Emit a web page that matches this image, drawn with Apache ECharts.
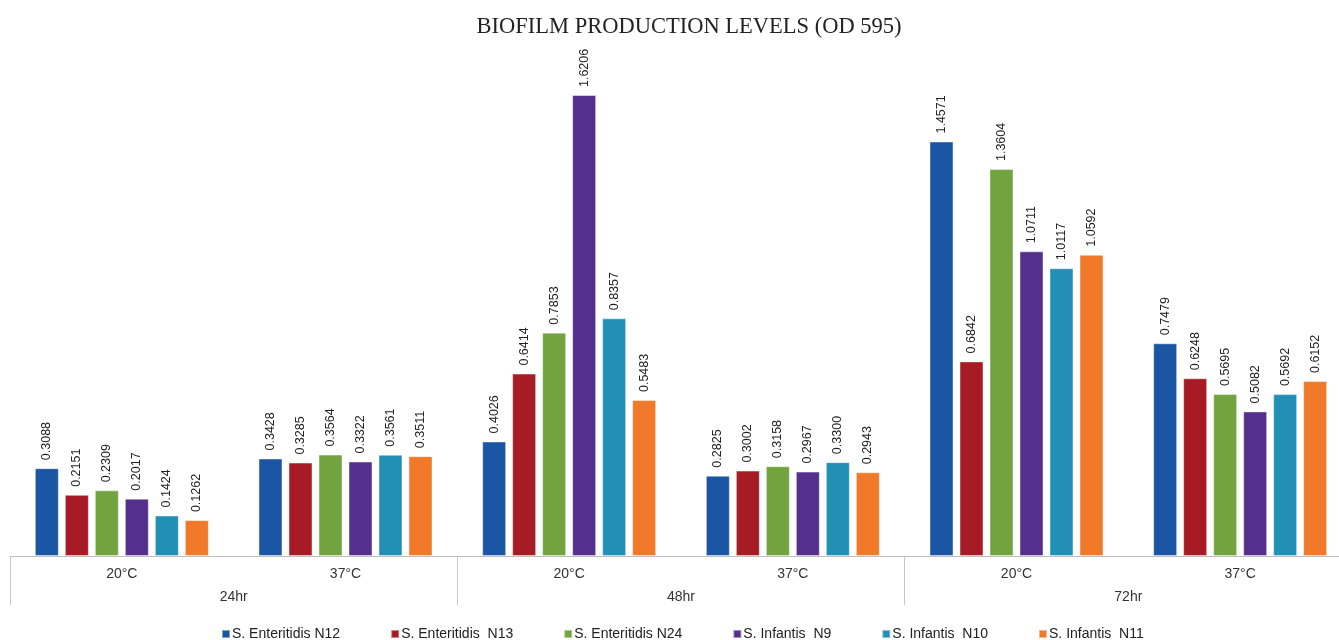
<!DOCTYPE html>
<html>
<head>
<meta charset="utf-8">
<script src="https://cdn.jsdelivr.net/npm/echarts@6/dist/echarts.min.js"></script>
<style>html,body{margin:0;padding:0;background:#fff;overflow:hidden;width:1339px;height:640px}#c{width:1370px;height:640px}</style>
</head>
<body>
<div id="c"></div>
<script>
const temps = ['20°C','37°C','20°C','37°C','20°C','37°C'];
const times = ['24hr','48hr','72hr'];
const seriesNames = ['S. Enteritidis N12','S. Enteritidis  N13','S. Enteritidis N24','S. Infantis  N9','S. Infantis  N10','S. Infantis  N11'];
const N12 = [0.3088, 0.3428, 0.4026, 0.2825, 1.4571, 0.7479];
const N13 = [0.2151, 0.3285, 0.6414, 0.3002, 0.6842, 0.6248];
const N24 = [0.2309, 0.3564, 0.7853, 0.3158, 1.3604, 0.5695];
const N9  = [0.2017, 0.3322, 1.6206, 0.2967, 1.0711, 0.5082];
const N10 = [0.1424, 0.3561, 0.8357, 0.3300, 1.0117, 0.5692];
const N11 = [0.1262, 0.3511, 0.5483, 0.2943, 1.0592, 0.6152];
const allData = [N12, N13, N24, N9, N10, N11];
const colors = ['#1a56a4','#a71c24','#71a33f','#54308c','#2290b4','#f07a2a'];

const sans = '"Liberation Sans", Arial, sans-serif';
const chart = echarts.init(document.getElementById('c'), null, {renderer:'canvas'});
chart.setOption({
  animation: false,
  color: colors,
  title: {
    text: 'BIOFILM PRODUCTION LEVELS (OD 595)',
    left: 684, top: 11, textAlign: 'center',
    textStyle: {fontFamily: '"Liberation Serif", "DejaVu Serif", serif', fontWeight: 'normal', fontSize: 22.5, color: '#222'}
  },
  legend: {
    data: seriesNames,
    top: 622, left: 216,
    itemWidth: 8, itemHeight: 8, itemGap: 50,
    icon: 'rect',
    textStyle: {fontFamily: sans, fontSize: 14, color: '#222', padding: [0, 0, 0, -3]}
  },
  grid: {left: 10, width: 1342, top: 44, height: 512, containLabel: false},
  xAxis: [
    {
      type: 'category', data: temps, position: 'bottom',
      axisLine: {show: true, lineStyle: {color: '#bdbdbd', width: 1}},
      axisTick: {show: false},
      axisLabel: {margin: 11, fontSize: 14, color: '#333', fontFamily: sans}
    },
    {
      type: 'category', data: times, position: 'bottom',
      axisLine: {show: false},
      axisTick: {show: true, length: 49, alignWithLabel: false, lineStyle: {color: '#c8c8c8', width: 1}},
      axisLabel: {margin: 34, fontSize: 14, color: '#333', fontFamily: sans}
    }
  ],
  yAxis: {type: 'value', min: 0, max: 1.8, show: false, splitLine: {show: false}},
  series: seriesNames.map((name, i) => ({
    name: name,
    type: 'bar',
    xAxisIndex: 0,
    data: allData[i],
    barWidth: 24,
    barGap: '25%',
    itemStyle: {color: colors[i], borderColor: 'rgba(255,255,255,0.45)', borderWidth: 1},
    label: {
      show: true, position: 'top', rotate: 90, distance: 8,
      align: 'left', verticalAlign: 'middle',
      fontSize: 12.5, color: '#222', fontFamily: sans,
      formatter: p => p.value.toFixed(4)
    }
  }))
});
</script>
</body>
</html>
